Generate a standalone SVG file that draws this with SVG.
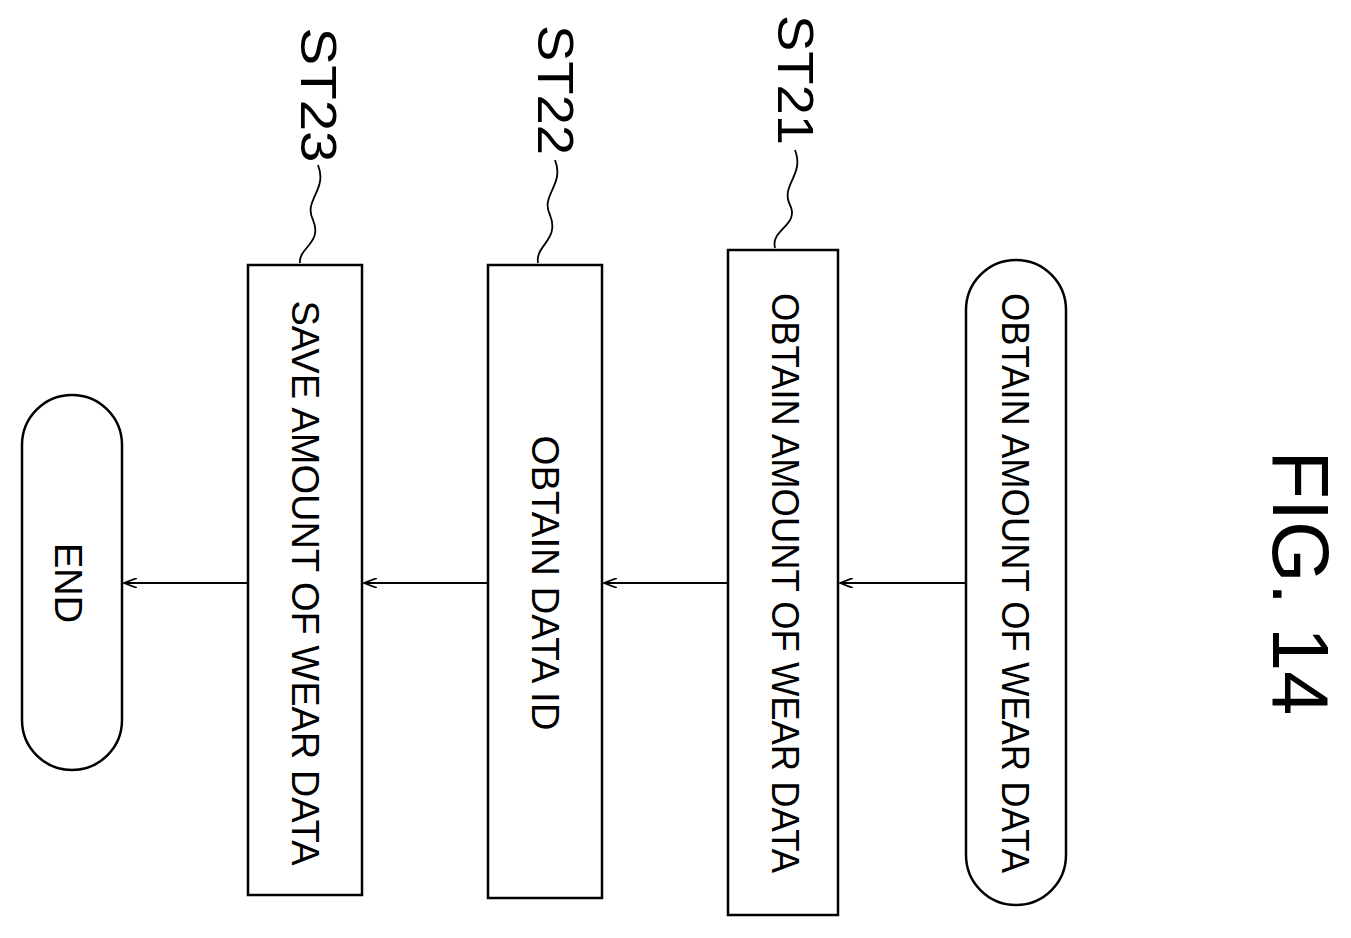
<svg xmlns="http://www.w3.org/2000/svg" width="1351" height="938" viewBox="0 0 1351 938">
<style>
.b{fill:#fff;stroke:#000;stroke-width:2.5}
.t{font-family:"Liberation Sans",Arial,sans-serif;font-size:38px;text-anchor:middle;dominant-baseline:central}
.l{font-family:"Liberation Sans",Arial,sans-serif;font-size:50px;text-anchor:middle;dominant-baseline:central}
.c{fill:none;stroke:#000;stroke-width:1.8}
</style>
<defs><marker id="a" markerWidth="14" markerHeight="10" refX="13" refY="5" orient="auto" markerUnits="userSpaceOnUse"><path d="M0,0 L13,5 L0,10" fill="none" stroke="#000" stroke-width="1.8"/></marker></defs>
<rect width="1351" height="938" fill="#fff"/>
<g id="connectors">
<line class="c" x1="966" y1="583" x2="840" y2="583" marker-end="url(#a)"/>
<line class="c" x1="728" y1="583" x2="604" y2="583" marker-end="url(#a)"/>
<line class="c" x1="488" y1="583" x2="364" y2="583" marker-end="url(#a)"/>
<line class="c" x1="248" y1="583" x2="124" y2="583" marker-end="url(#a)"/>
<path class="c" d="M795,150 C805,175 780,185 790,205 C800,225 770,230 775,248"/>
<path class="c" d="M555,160 C565,185 540,195 550,215 C560,240 535,245 538,263"/>
<path class="c" d="M318,165 C328,190 303,200 313,220 C323,243 298,248 300,263"/>
</g>
<g id="start"><rect class="b" x="966" y="260" width="100" height="645" rx="50"/>
<text class="t" transform="translate(1015,583) rotate(90)" textLength="580" lengthAdjust="spacingAndGlyphs">OBTAIN AMOUNT OF WEAR DATA</text></g>
<g id="st21"><rect class="b" x="728" y="250" width="110" height="665"/>
<text class="t" transform="translate(785,583) rotate(90)" textLength="580" lengthAdjust="spacingAndGlyphs">OBTAIN AMOUNT OF WEAR DATA</text>
<text class="l" transform="translate(795,80) rotate(90)" textLength="130" lengthAdjust="spacingAndGlyphs">ST21</text></g>
<g id="st22"><rect class="b" x="488" y="265" width="114" height="633"/>
<text class="t" transform="translate(545,583) rotate(90)" textLength="295" lengthAdjust="spacingAndGlyphs">OBTAIN DATA ID</text>
<text class="l" transform="translate(555,90) rotate(90)" textLength="130" lengthAdjust="spacingAndGlyphs">ST22</text></g>
<g id="st23"><rect class="b" x="248" y="265" width="114" height="630"/>
<text class="t" transform="translate(305,583) rotate(90)" textLength="565" lengthAdjust="spacingAndGlyphs">SAVE AMOUNT OF WEAR DATA</text>
<text class="l" transform="translate(318,95) rotate(90)" textLength="135" lengthAdjust="spacingAndGlyphs">ST23</text></g>
<g id="end"><rect class="b" x="22" y="395" width="100" height="375" rx="50"/>
<text class="t" transform="translate(68,583) rotate(90)" textLength="80" lengthAdjust="spacingAndGlyphs">END</text></g>
<text class="l" style="font-size:80px" transform="translate(1300,583) rotate(90)" textLength="265" lengthAdjust="spacingAndGlyphs">FIG. 14</text>
</svg>
